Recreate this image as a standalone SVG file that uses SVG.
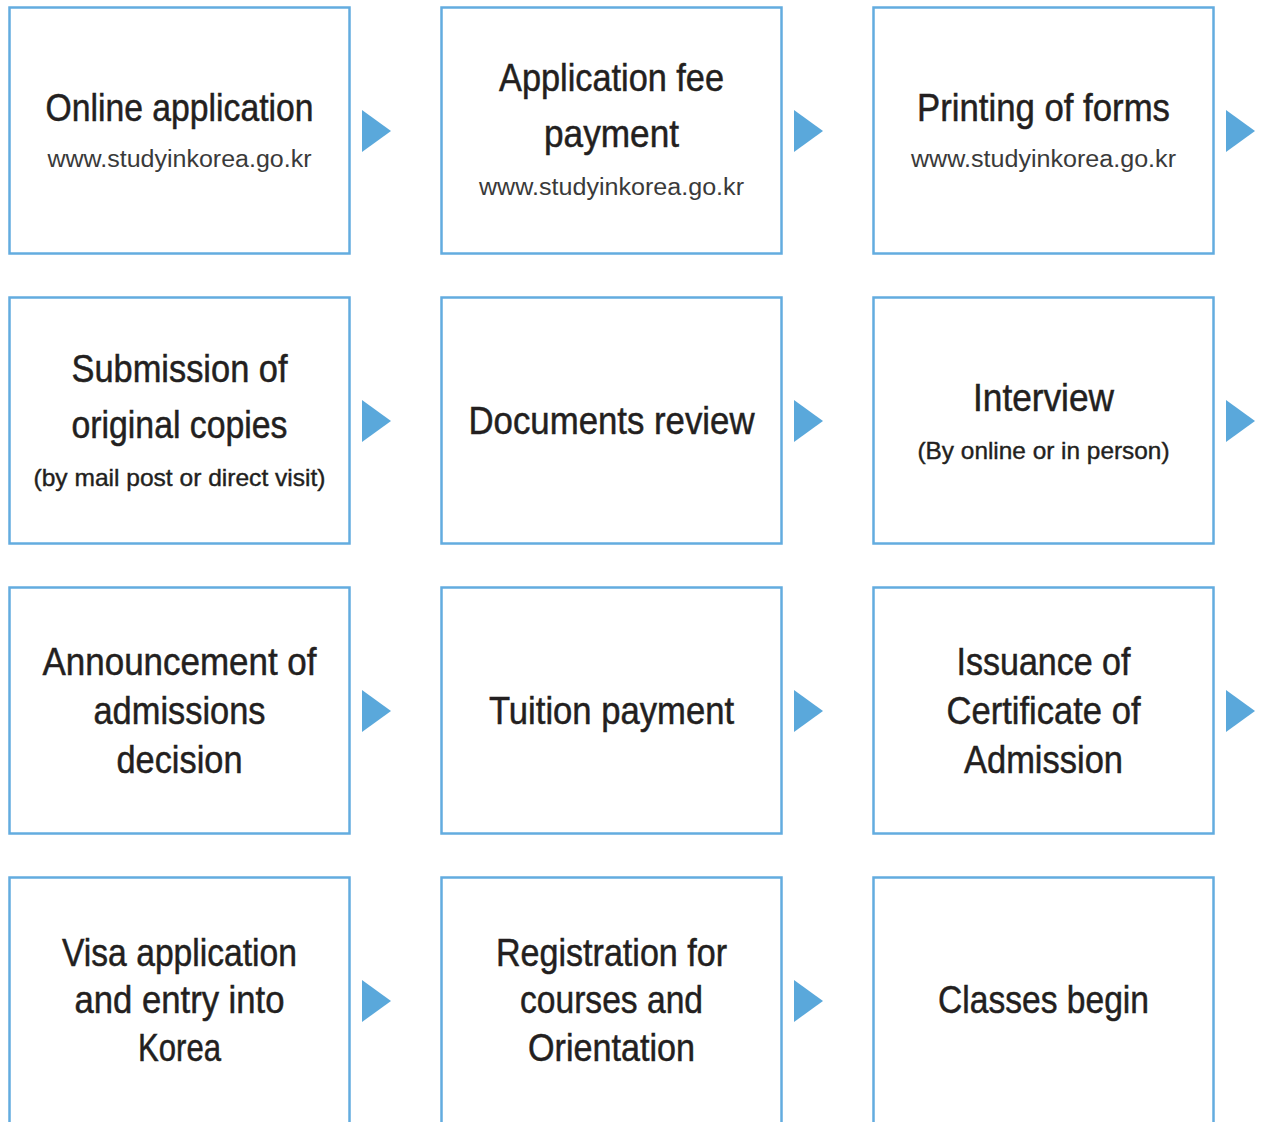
<svg xmlns="http://www.w3.org/2000/svg" xmlns:xlink="http://www.w3.org/1999/xlink" width="1261" height="1122" viewBox="0 0 1261 1122">
<style>
.box{fill:#fff;stroke:#63ACDF;stroke-width:2.5}
.t{font-family:"Liberation Sans",Arial,sans-serif;font-size:38px;fill:#231F20;stroke:#231F20;stroke-width:0.5;text-anchor:middle}
.s{font-family:"Liberation Sans",Arial,sans-serif;font-size:24px;fill:#231F20;stroke:#231F20;stroke-width:0.4;text-anchor:middle}
.u{font-family:"Liberation Sans",Arial,sans-serif;font-size:23px;fill:#3a3a3a;text-anchor:middle}
.arr{fill:#5AA8DB}
</style>
<defs>
<polygon id="tri" points="0,0 29,21 0,42"/>
</defs>
<rect width="1261" height="1122" fill="#fff"/>
<g id="n1">
<rect class="box" x="9.5" y="7.5" width="340" height="246"/>
<text class="t" x="179.5" y="121" textLength="268" lengthAdjust="spacingAndGlyphs">Online application</text>
<text class="u" x="179.5" y="167" textLength="264" lengthAdjust="spacingAndGlyphs">www.studyinkorea.go.kr</text>
</g>
<g id="n2">
<rect class="box" x="441.5" y="7.5" width="340" height="246"/>
<text class="t" x="611.5" y="91" textLength="225" lengthAdjust="spacingAndGlyphs">Application fee</text>
<text class="t" x="611.5" y="147" textLength="135" lengthAdjust="spacingAndGlyphs">payment</text>
<text class="u" x="611.5" y="195" textLength="265" lengthAdjust="spacingAndGlyphs">www.studyinkorea.go.kr</text>
</g>
<g id="n3">
<rect class="box" x="873.5" y="7.5" width="340" height="246"/>
<text class="t" x="1043.5" y="121" textLength="253" lengthAdjust="spacingAndGlyphs">Printing of forms</text>
<text class="u" x="1043.5" y="167" textLength="265" lengthAdjust="spacingAndGlyphs">www.studyinkorea.go.kr</text>
</g>
<g id="n4">
<rect class="box" x="9.5" y="297.5" width="340" height="246"/>
<text class="t" x="179.5" y="382" textLength="216" lengthAdjust="spacingAndGlyphs">Submission of</text>
<text class="t" x="179.5" y="438" textLength="216" lengthAdjust="spacingAndGlyphs">original copies</text>
<text class="s" x="179.5" y="486" textLength="292" lengthAdjust="spacingAndGlyphs">(by mail post or direct visit)</text>
</g>
<g id="n5">
<rect class="box" x="441.5" y="297.5" width="340" height="246"/>
<text class="t" x="611.5" y="434" textLength="286" lengthAdjust="spacingAndGlyphs">Documents review</text>
</g>
<g id="n6">
<rect class="box" x="873.5" y="297.5" width="340" height="246"/>
<text class="t" x="1043.5" y="411" textLength="141" lengthAdjust="spacingAndGlyphs">Interview</text>
<text class="s" x="1043.5" y="459" textLength="252" lengthAdjust="spacingAndGlyphs">(By online or in person)</text>
</g>
<g id="n7">
<rect class="box" x="9.5" y="587.5" width="340" height="246"/>
<text class="t" x="179.5" y="675" textLength="274" lengthAdjust="spacingAndGlyphs">Announcement of</text>
<text class="t" x="179.5" y="724" textLength="172" lengthAdjust="spacingAndGlyphs">admissions</text>
<text class="t" x="179.5" y="773" textLength="126" lengthAdjust="spacingAndGlyphs">decision</text>
</g>
<g id="n8">
<rect class="box" x="441.5" y="587.5" width="340" height="246"/>
<text class="t" x="611.5" y="724" textLength="245" lengthAdjust="spacingAndGlyphs">Tuition payment</text>
</g>
<g id="n9">
<rect class="box" x="873.5" y="587.5" width="340" height="246"/>
<text class="t" x="1043.5" y="675" textLength="174" lengthAdjust="spacingAndGlyphs">Issuance of</text>
<text class="t" x="1043.5" y="724" textLength="194" lengthAdjust="spacingAndGlyphs">Certificate of</text>
<text class="t" x="1043.5" y="773" textLength="159" lengthAdjust="spacingAndGlyphs">Admission</text>
</g>
<g id="n10">
<rect class="box" x="9.5" y="877.5" width="340" height="300"/>
<text class="t" x="179.5" y="966" textLength="235" lengthAdjust="spacingAndGlyphs">Visa application</text>
<text class="t" x="179.5" y="1013" textLength="210" lengthAdjust="spacingAndGlyphs">and entry into</text>
<text class="t" x="179.5" y="1061" textLength="83" lengthAdjust="spacingAndGlyphs">Korea</text>
</g>
<g id="n11">
<rect class="box" x="441.5" y="877.5" width="340" height="300"/>
<text class="t" x="611.5" y="966" textLength="231" lengthAdjust="spacingAndGlyphs">Registration for</text>
<text class="t" x="611.5" y="1013" textLength="183" lengthAdjust="spacingAndGlyphs">courses and</text>
<text class="t" x="611.5" y="1061" textLength="167" lengthAdjust="spacingAndGlyphs">Orientation</text>
</g>
<g id="n12">
<rect class="box" x="873.5" y="877.5" width="340" height="300"/>
<text class="t" x="1043.5" y="1013" textLength="211" lengthAdjust="spacingAndGlyphs">Classes begin</text>
</g>
<g id="connectors" class="arr">
<use xlink:href="#tri" x="362" y="110"/>
<use xlink:href="#tri" x="794" y="110"/>
<use xlink:href="#tri" x="1226" y="110"/>
<use xlink:href="#tri" x="362" y="400"/>
<use xlink:href="#tri" x="794" y="400"/>
<use xlink:href="#tri" x="1226" y="400"/>
<use xlink:href="#tri" x="362" y="690"/>
<use xlink:href="#tri" x="794" y="690"/>
<use xlink:href="#tri" x="1226" y="690"/>
<use xlink:href="#tri" x="362" y="980"/>
<use xlink:href="#tri" x="794" y="980"/>
</g>
</svg>
